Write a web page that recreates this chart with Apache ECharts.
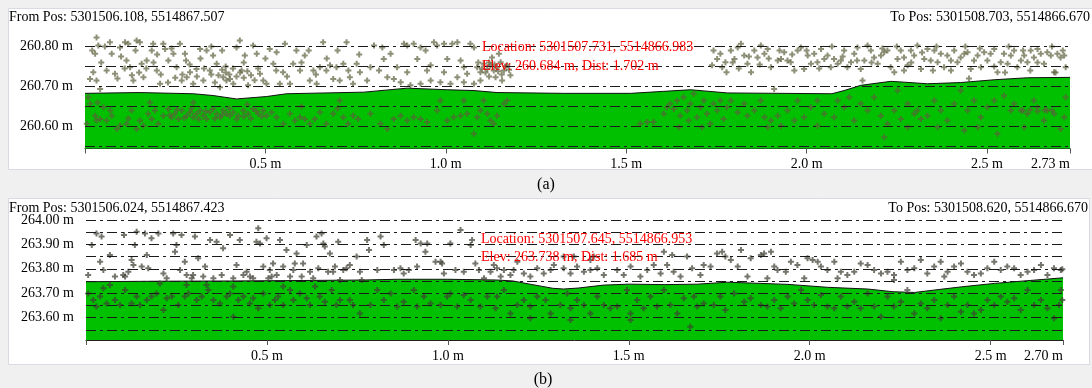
<!DOCTYPE html>
<html><head><meta charset="utf-8">
<script src="https://cdn.jsdelivr.net/npm/echarts@6/dist/echarts.min.js"></script>
<style>html,body{margin:0;padding:0;background:#f0f0f0}#c{width:1092px;height:388px}</style>
</head><body><div id="c"></div>
<script>
// ---------- Panel (a) ----------
const xTickValsA = [0, 0.5, 1.0, 1.5, 2.0, 2.5, 2.73];
const xLabelValsA = [0.5, 1.0, 1.5, 2.0, 2.5, 2.73];
const xLabelsA = ['0.5 m', '1.0 m', '1.5 m', '2.0 m', '2.5 m', '2.73 m'];
const yLabelValsA = [260.60, 260.70, 260.80];
const yLabelsA = ['260.60 m', '260.70 m', '260.80 m'];
const gridLinesA = [260.55, 260.60, 260.65, 260.70, 260.75, 260.80];
const profileDistA = [0, 0.15, 0.3, 0.355, 0.42, 0.503, 0.559, 0.773, 0.893, 1.004, 1.078, 1.142, 1.327, 1.512, 1.604, 1.678, 1.781, 2.07, 2.104, 2.15, 2.233, 2.27, 2.335, 2.427, 2.52, 2.612, 2.73];
const profileElevA = [260.683, 260.685, 260.682, 260.6775, 260.669, 260.675, 260.682, 260.686, 260.696, 260.692, 260.69, 260.685, 260.683, 260.683, 260.688, 260.692, 260.684, 260.682, 260.69, 260.703, 260.713, 260.711, 260.707, 260.71, 260.717, 260.722, 260.723];
const pointsA = [
[0.032,260.823],[0.037,260.803],[0.028,260.782],[0.023,260.736],[0.032,260.715],[0.014,260.719],[0.042,260.694],[0.069,260.811],[0.074,260.782],[0.083,260.732],[0.097,260.798],[0.111,260.811],[0.12,260.807],[0.115,260.765],[0.125,260.748],[0.134,260.715],[0.143,260.815],[0.152,260.811],[0.157,260.757],[0.162,260.723],[0.171,260.765],[0.185,260.79],[0.189,260.807],[0.199,260.74],[0.208,260.707],[0.217,260.807],[0.222,260.794],[0.231,260.765],[0.245,260.782],[0.254,260.748],[0.263,260.807],[0.268,260.715],[0.277,260.782],[0.282,260.723],[0.291,260.736],[0.3,260.707],[0.309,260.744],[0.319,260.794],[0.328,260.715],[0.337,260.79],[0.346,260.74],[0.355,260.778],[0.365,260.757],[0.374,260.698],[0.383,260.723],[0.392,260.715],[0.402,260.719],[0.411,260.707],[0.42,260.798],[0.429,260.815],[0.434,260.74],[0.443,260.778],[0.452,260.703],[0.466,260.803],[0.476,260.782],[0.485,260.732],[0.494,260.715],[0.503,260.707],[0.512,260.794],[0.522,260.757],[0.531,260.786],[0.54,260.707],[0.549,260.736],[0.554,260.807],[0.568,260.707],[0.577,260.757],[0.586,260.79],[0.596,260.74],[0.609,260.778],[0.623,260.715],[0.633,260.74],[0.642,260.707],[0.651,260.748],[0.66,260.811],[0.669,260.74],[0.679,260.753],[0.688,260.719],[0.697,260.748],[0.706,260.715],[0.716,260.757],[0.725,260.811],[0.734,260.723],[0.743,260.707],[0.753,260.757],[0.762,260.736],
[0.37,260.728],[0.38,260.742],[0.39,260.735],[0.40,260.73],[0.41,260.745],[0.42,260.725],[0.43,260.735],[0.44,260.722],[0.45,260.738],[0.46,260.728],[0.47,260.716],[0.48,260.745],[0.39,260.75],[0.36,260.71],[0.35,260.73],[0.33,260.745],[0.31,260.725],[0.29,260.755],[0.27,260.73],[0.25,260.722],[0.23,260.71],[0.21,260.73],[0.19,260.76],[0.17,260.745],[0.15,260.735],[0.13,260.728],[0.11,260.745],[0.09,260.72],[0.06,260.74],[0.045,260.76],[0.02,260.79],[0.055,260.8],[0.1,260.775],[0.14,260.79],[0.2,260.78],[0.24,260.795],[0.28,260.765],[0.32,260.77],[0.35,260.8],[0.38,260.79],[0.44,260.76],[0.5,260.77],[0.53,260.74],[0.56,260.725],[0.6,260.76],[0.62,260.79],[0.64,260.73],[0.67,260.77],[0.7,260.79],[0.73,260.74],[0.76,260.78],
[0.009,260.673],[0.014,260.657],[0.005,260.607],[0.028,260.627],[0.042,260.619],[0.032,260.615],[0.051,260.648],[0.06,260.615],[0.074,260.627],[0.088,260.594],[0.097,260.602],[0.115,260.607],[0.129,260.64],[0.143,260.594],[0.152,260.615],[0.162,260.602],[0.175,260.632],[0.185,260.619],[0.194,260.64],[0.203,260.607],[0.217,260.627],[0.231,260.644],[0.24,260.623],[0.249,260.632],[0.259,260.619],[0.268,260.64],[0.282,260.627],[0.291,260.636],[0.3,260.623],[0.309,260.632],[0.319,260.64],[0.328,260.627],[0.337,260.619],[0.346,260.636],[0.355,260.644],[0.365,260.632],[0.374,260.623],[0.383,260.64],[0.392,260.632],[0.402,260.627],[0.411,260.636],[0.425,260.627],[0.439,260.64],[0.452,260.632],[0.466,260.644],[0.48,260.632],[0.494,260.64],[0.503,260.627],[0.517,260.636],[0.531,260.623],[0.55,260.607],[0.568,260.632],[0.582,260.615],[0.596,260.623],[0.609,260.619],[0.623,260.607],[0.637,260.619],[0.651,260.636],[0.669,260.607],[0.688,260.632],[0.706,260.665],[0.716,260.623],[0.729,260.607],[0.743,260.627],[0.757,260.619],
[0.235,260.628],[0.255,260.642],[0.275,260.622],[0.295,260.645],[0.315,260.618],[0.335,260.638],[0.36,260.62],[0.38,260.628],[0.4,260.645],[0.42,260.618],[0.44,260.625],[0.46,260.62],[0.475,260.638],[0.49,260.625],[0.12,260.62],[0.07,260.64],[0.035,260.66],[0.18,260.66],[0.3,260.66],[0.45,260.655],[0.6,260.65],[0.7,260.645],
[0.801,260.803],[0.824,260.798],[0.847,260.782],[0.865,260.748],[0.884,260.807],[0.893,260.803],[0.911,260.807],[0.921,260.769],[0.93,260.798],[0.944,260.79],[0.958,260.753],[0.967,260.811],[0.976,260.803],[0.995,260.807],[1.004,260.769],[1.018,260.807],[1.032,260.811],[1.041,260.765],[1.05,260.748],[1.059,260.732],[1.068,260.807],[1.078,260.798],[1.087,260.748],[1.096,260.736],[1.105,260.757],[1.115,260.744],[1.124,260.753],[1.133,260.74],[1.142,260.748],[1.152,260.761],[1.161,260.74],[1.17,260.753],[1.179,260.728],[1.096,260.715],[1.078,260.707],[1.05,260.711],[1.013,260.707],[0.985,260.711],[0.958,260.715],[0.93,260.707],[0.902,260.703],[0.875,260.711],[0.856,260.719],[0.838,260.723],[0.815,260.74],[0.791,260.748],[0.782,260.715],[0.828,260.769],[0.893,260.736],[0.948,260.74],[0.995,260.736],[1.032,260.723],[1.128,260.773],[1.138,260.723],[1.156,260.715],[1.147,260.782],[1.742,260.79],[1.752,260.769],[1.766,260.748],[1.775,260.761],[1.738,260.753],[1.761,260.782],[1.778,260.736],
[1.1,260.745],[1.11,260.735],[1.12,260.76],[1.135,260.755],[1.145,260.738],[1.165,260.75],[1.175,260.742],[1.155,260.73],[1.09,260.76],[1.12,260.725],
[0.791,260.632],[0.819,260.607],[0.838,260.594],[0.856,260.619],[0.875,260.627],[0.893,260.615],[0.911,260.623],[0.93,260.619],[0.948,260.611],[0.976,260.64],[0.985,260.665],[1.004,260.615],[1.022,260.623],[1.041,260.627],[1.05,260.665],[1.059,260.632],[1.078,260.582],[1.087,260.623],[1.096,260.64],[1.105,260.665],[1.115,260.632],[1.124,260.615],[1.133,260.607],[1.142,260.627],[1.161,260.657],[1.17,260.665],[1.539,260.607],[1.558,260.611],[1.576,260.611],[1.604,260.632],[1.613,260.648],[1.622,260.657],[1.632,260.644],[1.641,260.665],[1.65,260.627],[1.659,260.673],[1.669,260.64],[1.678,260.657],[1.687,260.682],[1.696,260.623],[1.706,260.648],[1.715,260.665],[1.724,260.632],[1.733,260.607],[1.742,260.657],[1.752,260.64],[1.761,260.665],[1.77,260.619],[1.779,260.648],[1.646,260.598],[1.673,260.615],[1.71,260.598],
[1.79,260.79],[1.8,260.769],[1.809,260.798],[1.818,260.807],[1.827,260.778],[1.836,260.757],[1.846,260.736],[1.855,260.79],[1.864,260.773],[1.873,260.803],[1.883,260.782],[1.892,260.794],[1.901,260.748],[1.91,260.694],[1.92,260.765],[1.929,260.769],[1.938,260.786],[1.947,260.765],[1.956,260.761],[1.966,260.74],[1.975,260.79],[1.984,260.798],[1.993,260.744],[2.003,260.778],[2.012,260.757],[2.021,260.782],[2.03,260.761],[2.04,260.794],[2.049,260.769],[2.058,260.778],[2.067,260.748],[2.076,260.769],[2.086,260.757],[2.095,260.765],[2.104,260.79],[2.113,260.748],[2.123,260.761],[2.132,260.782],[2.141,260.798],[2.15,260.744],[2.155,260.715],[2.16,260.765],[2.169,260.803],[2.178,260.79],[2.187,260.773],[2.197,260.757],[2.206,260.778],[2.215,260.786],[2.224,260.79],[2.233,260.748],[2.243,260.736],[2.252,260.769],[2.261,260.79],[2.27,260.773],[2.28,260.753],[2.289,260.79],[2.298,260.778],[2.307,260.803],[2.317,260.744],[2.326,260.769],[2.335,260.794],[2.344,260.765],[2.354,260.79],[2.363,260.761],[2.372,260.782],[2.381,260.748],[2.39,260.778],[2.4,260.74],[2.409,260.79],[2.418,260.761],[2.427,260.773],[2.437,260.782],[2.446,260.786],[2.455,260.744],[2.464,260.765],[2.474,260.778],[2.483,260.748],[2.492,260.786],[2.501,260.765],[2.51,260.782],[2.52,260.794],[2.529,260.736],[2.538,260.761],[2.547,260.782],[2.557,260.757],[2.566,260.778],[2.575,260.79],[2.584,260.748],[2.594,260.765],[2.603,260.778],[2.612,260.761],[2.621,260.79],[2.63,260.773],[2.64,260.794],[2.649,260.782],[2.658,260.757],[2.667,260.786],[2.677,260.778],[2.686,260.736],[2.695,260.782],[2.704,260.773],[2.714,260.778],[2.718,260.748],
[1.795,260.76],[1.812,260.745],[1.84,260.775],[1.87,260.755],[1.895,260.77],[1.925,260.79],[1.96,260.78],[2.0,260.79],[2.035,260.745],[2.07,260.8],[2.1,260.775],[2.14,260.765],[2.18,260.76],[2.21,260.795],[2.25,260.8],[2.29,260.76],[2.32,260.785],[2.36,260.8],[2.4,260.765],[2.44,260.8],[2.48,260.795],[2.52,260.75],[2.56,260.8],[2.6,260.79],[2.64,260.76],[2.68,260.8],[2.71,260.79],[2.45,260.72],[2.55,260.735],[2.62,260.74],[2.69,260.735],[2.35,260.74],[2.27,260.74],
[1.79,260.665],[1.809,260.636],[1.827,260.657],[1.836,260.627],[1.855,260.64],[1.873,260.665],[1.883,260.623],[1.901,260.615],[1.92,260.627],[1.929,260.602],[1.947,260.64],[1.966,260.615],[1.975,260.665],[1.993,260.623],[2.012,260.648],[2.03,260.665],[2.049,260.632],[2.076,260.623],[2.086,260.665],[2.104,260.648],[2.118,260.673],[2.132,260.615],[2.15,260.657],[2.169,260.64],[2.187,260.673],[2.206,260.627],[2.215,260.573],[2.224,260.607],[2.243,260.64],[2.252,260.69],[2.261,260.619],[2.28,260.657],[2.298,260.632],[2.307,260.64],[2.317,260.619],[2.335,260.627],[2.354,260.665],[2.372,260.64],[2.39,260.615],[2.409,260.657],[2.427,260.69],[2.437,260.59],[2.446,260.64],[2.464,260.665],[2.474,260.598],[2.483,260.623],[2.501,260.648],[2.52,260.665],[2.529,260.582],[2.547,260.677],[2.566,260.64],[2.575,260.657],[2.594,260.64],[2.612,260.632],[2.63,260.665],[2.64,260.648],[2.658,260.615],[2.667,260.64],[2.686,260.632],[2.704,260.594],[2.714,260.623],[2.718,260.673],[2.603,260.598],[2.363,260.598],[2.28,260.598],[2.03,260.602],[1.892,260.598],
[2.6,260.64],[2.62,260.642],[2.64,260.638],[2.66,260.641],[2.68,260.64]
];

// ---------- Panel (b) ----------
const xTickValsB = [0, 0.5, 1.0, 1.5, 2.0, 2.5, 2.70];
const xLabelValsB = [0.5, 1.0, 1.5, 2.0, 2.5, 2.70];
const xLabelsB = ['0.5 m', '1.0 m', '1.5 m', '2.0 m', '2.5 m', '2.70 m'];
const yLabelValsB = [263.60, 263.70, 263.80, 263.90, 264.00];
const yLabelsB = ['263.60 m', '263.70 m', '263.80 m', '263.90 m', '264.00 m'];
const gridLinesB = [263.55, 263.60, 263.65, 263.70, 263.75, 263.80, 263.85, 263.90, 263.95, 264.00];
const profileDistB = [0, 0.2, 0.4, 0.6, 0.768, 0.86, 1.0, 1.135, 1.18, 1.23, 1.29, 1.32, 1.36, 1.43, 1.5, 1.6, 1.69, 1.773, 1.94, 2.05, 2.16, 2.23, 2.29, 2.345, 2.42, 2.51, 2.6, 2.70];
const profileElevB = [263.747, 263.749, 263.75, 263.752, 263.754, 263.757, 263.757, 263.754, 263.75, 263.736, 263.72, 263.717, 263.721, 263.733, 263.737, 263.735, 263.737, 263.745, 263.736, 263.724, 263.717, 263.706, 263.703, 263.713, 263.726, 263.74, 263.751, 263.763];
const pointsB = [
[0.006,263.774],[0.016,263.897],[0.029,263.945],[0.043,263.932],[0.039,263.829],[0.048,263.795],[0.066,263.856],[0.08,263.768],[0.103,263.774],[0.105,263.938],[0.108,263.768],[0.117,263.788],[0.126,263.836],[0.131,263.815],[0.135,263.897],[0.14,263.952],[0.154,263.809],[0.163,263.945],[0.168,263.856],[0.172,263.802],[0.181,263.925],[0.2,263.945],[0.214,263.781],[0.223,263.761],[0.241,263.945],[0.246,263.87],[0.25,263.897],[0.26,263.795],[0.264,263.938],[0.273,263.829],[0.278,263.774],[0.292,263.761],[0.296,263.774],[0.301,263.932],[0.31,263.843],[0.324,263.768],[0.329,263.809],[0.343,263.918],[0.352,263.761],[0.361,263.911],[0.375,263.774],[0.379,263.884],[0.398,263.938],[0.407,263.761],[0.416,263.815],[0.425,263.918],[0.435,263.774],[0.444,263.788],[0.453,263.768],[0.462,263.761],[0.471,263.911],[0.476,263.966],[0.481,263.904],[0.49,263.809],[0.499,263.925],[0.504,263.761],[0.508,263.795],[0.513,263.768],[0.517,263.822],[0.527,263.774],[0.536,263.918],[0.545,263.809],[0.554,263.877],[0.564,263.768],[0.573,263.795],[0.577,263.822],[0.582,263.863],[0.596,263.768],[0.6,263.822],[0.61,263.897],[0.619,263.788],[0.628,263.761],[0.637,263.932],[0.642,263.802],[0.651,263.945],[0.656,263.904],[0.66,263.891],[0.669,263.788],[0.674,263.863],[0.683,263.788],[0.688,263.809],[0.697,263.911],[0.702,263.754],[0.711,263.795],[0.72,263.802],[0.729,263.815],[0.748,263.85],[0.757,263.788],[0.762,263.754],
[0.006,263.699],[0.02,263.672],[0.029,263.645],[0.039,263.686],[0.048,263.72],[0.057,263.658],[0.08,263.672],[0.094,263.651],[0.108,263.713],[0.126,263.658],[0.14,263.686],[0.149,263.651],[0.168,263.672],[0.181,263.686],[0.195,263.699],[0.214,263.631],[0.223,263.679],[0.237,263.686],[0.255,263.651],[0.273,263.686],[0.283,263.699],[0.306,263.672],[0.32,263.686],[0.338,263.713],[0.352,263.672],[0.37,263.658],[0.389,263.686],[0.398,263.699],[0.407,263.727],[0.421,263.672],[0.435,263.686],[0.453,263.658],[0.462,263.679],[0.476,263.638],[0.49,263.699],[0.508,263.651],[0.522,263.672],[0.531,263.686],[0.545,263.651],[0.564,263.713],[0.573,263.672],[0.591,263.699],[0.61,263.679],[0.619,263.651],[0.633,263.727],[0.646,263.686],[0.66,263.665],[0.679,263.713],[0.692,263.651],[0.702,263.672],[0.729,263.672],[0.738,263.651],[0.757,263.617],[0.407,263.603],[0.204,263.74],[0.066,263.733],[0.278,263.733],[0.333,263.733],[0.545,263.727],
[0.777,263.918],[0.782,263.877],[0.814,263.932],[0.823,263.897],[0.805,263.795],[0.851,263.795],[0.869,263.802],[0.892,263.795],[0.911,263.918],[0.915,263.809],[0.925,263.904],[0.938,263.87],[0.943,263.904],[0.966,263.829],[0.98,263.829],[0.984,263.822],[1.007,263.904],[1.021,263.795],[1.035,263.959],[1.044,263.788],[1.063,263.897],[1.067,263.918],[1.076,263.822],[1.086,263.795],[1.1,263.761],[1.118,263.788],[1.127,263.815],[1.136,263.802],[1.155,263.795],[1.173,263.774],[1.182,263.795],[1.192,263.829],[1.21,263.781],[1.228,263.768],[1.247,263.802],[1.265,263.781],[1.284,263.795],[1.293,263.815],[1.32,263.802],[1.339,263.781],[1.357,263.809],[1.376,263.788],[1.394,263.795],[1.403,263.85],[1.413,263.802],[1.431,263.774],[1.468,263.795],[1.486,263.774],[1.505,263.809],[1.532,263.768],[1.551,263.795],[1.569,263.815],[1.588,263.781],[1.606,263.815],[1.624,263.788],[1.643,263.768],[1.661,263.85],[1.675,263.802],[1.698,263.774],[1.707,263.815],[1.726,263.809],[1.744,263.863],[1.758,263.87],[1.767,263.85],[1.62,263.856],[1.597,263.87],[1.32,263.85],[1.348,263.85],[1.394,263.836],[1.146,263.768],[0.989,263.781],[0.878,263.781],
[0.786,263.651],[0.805,263.713],[0.823,263.672],[0.842,263.699],[0.86,263.645],[0.878,263.665],[0.906,263.713],[0.915,263.645],[0.934,263.686],[0.952,263.658],[0.98,263.651],[0.998,263.686],[1.007,263.699],[1.026,263.645],[1.044,263.692],[1.063,263.672],[1.09,263.645],[1.109,263.686],[1.132,263.638],[1.136,263.686],[1.155,263.713],[1.173,263.617],[1.192,263.651],[1.21,263.672],[1.228,263.645],[1.247,263.686],[1.27,263.672],[1.284,263.617],[1.311,263.651],[1.33,263.699],[1.339,263.638],[1.357,263.672],[1.376,263.651],[1.394,263.617],[1.413,263.686],[1.431,263.651],[1.449,263.638],[1.468,263.645],[1.495,263.713],[1.505,263.617],[1.523,263.672],[1.541,263.638],[1.56,263.686],[1.578,263.645],[1.597,263.713],[1.615,263.651],[1.634,263.617],[1.652,263.679],[1.67,263.562],[1.68,263.686],[1.689,263.645],[1.707,263.658],[1.735,263.651],[1.753,263.686],[1.767,263.631],[1.339,263.59],[1.505,263.59],[1.228,263.597],
[1.782,263.836],[1.801,263.809],[1.81,263.877],[1.837,263.843],[1.865,263.856],[1.874,263.863],[1.893,263.87],[1.902,263.809],[1.911,263.795],[1.934,263.788],[1.948,263.829],[1.966,263.815],[1.994,263.843],[2.008,263.836],[2.022,263.829],[2.031,263.809],[2.049,263.795],[2.068,263.829],[2.086,263.788],[2.104,263.774],[2.123,263.788],[2.141,263.822],[2.16,263.815],[2.178,263.795],[2.197,263.781],[2.215,263.788],[2.233,263.774],[2.252,263.829],[2.27,263.795],[2.289,263.802],[2.307,263.836],[2.325,263.781],[2.344,263.809],[2.362,263.829],[2.381,263.788],[2.399,263.809],[2.418,263.822],[2.436,263.788],[2.454,263.774],[2.473,263.781],[2.491,263.802],[2.51,263.829],[2.528,263.795],[2.546,263.809],[2.565,263.802],[2.583,263.774],[2.602,263.788],[2.62,263.795],[2.639,263.815],[2.657,263.774],[2.675,263.802],[2.694,263.795],[2.698,263.798],[1.828,263.768],[1.985,263.761],[2.077,263.761],[2.233,263.754],[2.372,263.768],[1.883,263.761],
[1.791,263.699],[1.819,263.665],[1.837,263.679],[1.865,263.651],[1.883,263.645],[1.902,263.672],[1.92,263.638],[1.939,263.686],[1.957,263.658],[1.976,263.713],[1.994,263.672],[2.012,263.651],[2.031,263.692],[2.049,263.645],[2.068,263.638],[2.086,263.686],[2.104,263.645],[2.123,263.665],[2.141,263.638],[2.16,263.699],[2.178,263.645],[2.197,263.603],[2.215,263.686],[2.233,263.645],[2.252,263.665],[2.27,263.713],[2.289,263.617],[2.307,263.658],[2.325,263.638],[2.344,263.672],[2.362,263.597],[2.381,263.651],[2.399,263.686],[2.418,263.624],[2.436,263.651],[2.454,263.617],[2.473,263.631],[2.491,263.672],[2.51,263.651],[2.528,263.686],[2.546,263.665],[2.565,263.679],[2.583,263.631],[2.602,263.713],[2.62,263.651],[2.639,263.672],[2.657,263.638],[2.675,263.597],[2.689,263.651],[2.694,263.713],[2.698,263.672]
];

// ---------- Texts ----------
const fromA = 'From Pos: 5301506.108, 5514867.507';
const toA = 'To Pos: 5301508.703, 5514866.670';
const locA = 'Location: 5301507.731, 5514866.983';
const elevA = 'Elev: 260.684 m, Dist: 1.702 m';
const fromB = 'From Pos: 5301506.024, 5514867.423';
const toB = 'To Pos: 5301508.620, 5514866.670';
const locB = 'Location: 5301507.645, 5514866.953';
const elevB = 'Elev: 263.738 m, Dist: 1.685 m';
const captionA = '(a)';
const captionB = '(b)';

const FONT = '"Liberation Serif", "Times New Roman", serif';
const PLUS = 'path://M2,0H4V2H6V4H4V6H2V4H0V2H2Z';

function lookup(vals, labels) {
  return function (v) {
    for (let i = 0; i < vals.length; i++) if (Math.abs(vals[i] - v) < 1e-6) return labels[i];
    return '';
  };
}
function zip(a, b) { return a.map((v, i) => [v, b[i]]); }

function xAxisCfg(idx, max, tickVals, labelVals, labels) {
  return {
    gridIndex: idx, type: 'value', min: 0, max: max,
    axisLine: { show: true, lineStyle: { color: '#222', width: 1 } },
    axisTick: { show: true, length: 5, customValues: tickVals, lineStyle: { color: '#555' } },
    axisLabel: { customValues: labelVals, formatter: lookup(labelVals, labels), color: '#000',
      fontFamily: FONT, fontSize: 14, margin: 9, alignMaxLabel: 'right' },
    splitLine: { show: false }
  };
}
function yAxisCfg(idx, min, max, labelVals, labels) {
  return {
    gridIndex: idx, type: 'value', min: min, max: max,
    axisLine: { show: false }, axisTick: { show: false },
    axisLabel: { customValues: labelVals, formatter: lookup(labelVals, labels), color: '#000',
      fontFamily: FONT, fontSize: 14, margin: 12 },
    splitLine: { show: false }
  };
}
function gridLineMark(vals) {
  return {
    silent: true, symbol: ['none', 'none'], label: { show: false },
    lineStyle: { color: '#1a1a1a', width: 1, type: [10, 4, 3, 4] },
    data: vals.map(v => ({ yAxis: v }))
  };
}

const chart = echarts.init(document.getElementById('c'), null, { renderer: 'canvas' });
chart.setOption({
  animation: false,
  backgroundColor: '#f0f0f0',
  grid: [
    { left: 85, top: 35, width: 985, height: 113.5 },
    { left: 86, top: 220, width: 977, height: 120 }
  ],
  xAxis: [
    xAxisCfg(0, 2.73, xTickValsA, xLabelValsA, xLabelsA),
    xAxisCfg(1, 2.70, xTickValsB, xLabelValsB, xLabelsB)
  ],
  yAxis: [
    yAxisCfg(0, 260.545, 260.829, yLabelValsA, yLabelsA),
    yAxisCfg(1, 263.508, 264.0, yLabelValsB, yLabelsB)
  ],
  graphic: [
    { type: 'rect', z: -10, shape: { x: 8.5, y: 8.5, width: 1090, height: 161 }, style: { fill: '#fff', stroke: '#d8dbe2', lineWidth: 1 } },
    { type: 'rect', z: -10, shape: { x: 8.5, y: 198.5, width: 1081, height: 166 }, style: { fill: '#fff', stroke: '#d8dbe2', lineWidth: 1 } },
    { type: 'text', z: 100, x: 9, y: 17, style: { text: fromA, font: '14px ' + FONT, fill: '#000', textVerticalAlign: 'middle' } },
    { type: 'text', z: 100, x: 1090, y: 17, style: { text: toA, font: '14px ' + FONT, fill: '#000', textAlign: 'right', textVerticalAlign: 'middle' } },
    { type: 'text', z: 100, x: 482, y: 47, style: { text: locA, font: '14px ' + FONT, fill: '#ff0000', textVerticalAlign: 'middle' } },
    { type: 'text', z: 100, x: 482, y: 66, style: { text: elevA, font: '14px ' + FONT, fill: '#ff0000', textVerticalAlign: 'middle' } },
    { type: 'text', z: 100, x: 9, y: 208, style: { text: fromB, font: '14px ' + FONT, fill: '#000', textVerticalAlign: 'middle' } },
    { type: 'text', z: 100, x: 1088, y: 208, style: { text: toB, font: '14px ' + FONT, fill: '#000', textAlign: 'right', textVerticalAlign: 'middle' } },
    { type: 'text', z: 100, x: 481, y: 239, style: { text: locB, font: '14px ' + FONT, fill: '#ff0000', textVerticalAlign: 'middle' } },
    { type: 'text', z: 100, x: 481, y: 257, style: { text: elevB, font: '14px ' + FONT, fill: '#ff0000', textVerticalAlign: 'middle' } },
    { type: 'text', z: 100, x: 546, y: 185, style: { text: captionA, font: '16px ' + FONT, fill: '#000', textAlign: 'center', textVerticalAlign: 'middle' } },
    { type: 'text', z: 100, x: 543, y: 380, style: { text: captionB, font: '16px ' + FONT, fill: '#000', textAlign: 'center', textVerticalAlign: 'middle' } }
  ],
  series: [
    { type: 'line', xAxisIndex: 0, yAxisIndex: 0, z: 1, data: zip(profileDistA, profileElevA), symbol: 'none',
      lineStyle: { color: '#111', width: 1 }, areaStyle: { color: '#00c000', opacity: 1, origin: 'start' },
      markLine: gridLineMark(gridLinesA) },
    { type: 'scatter', xAxisIndex: 0, yAxisIndex: 0, z: 3, data: pointsA, symbol: PLUS, symbolSize: 6,
      itemStyle: { color: 'rgba(92,96,60,0.88)' } },
    { type: 'line', xAxisIndex: 1, yAxisIndex: 1, z: 1, data: zip(profileDistB, profileElevB), symbol: 'none',
      lineStyle: { color: '#111', width: 1 }, areaStyle: { color: '#00c000', opacity: 1, origin: 'start' },
      markLine: gridLineMark(gridLinesB) },
    { type: 'scatter', xAxisIndex: 1, yAxisIndex: 1, z: 3, data: pointsB, symbol: PLUS, symbolSize: 6,
      itemStyle: { color: 'rgba(64,64,52,0.9)' } }
  ]
});
</script>
</body></html>
